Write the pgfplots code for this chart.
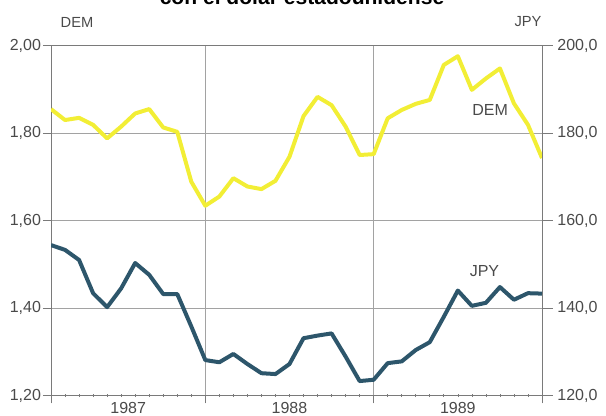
\documentclass[border=0pt]{standalone}
\usepackage{pgfplots}
\pgfplotsset{compat=1.18}
\usepackage{fontspec}
\setmainfont{Liberation Sans}
\definecolor{demc}{HTML}{F2EE35}
\definecolor{jpyc}{HTML}{2D566B}
\definecolor{axc}{HTML}{7A7A7A}
\definecolor{txc}{HTML}{4A4A4A}
\begin{document}
\begin{tikzpicture}
\pgfplotsset{
  common/.style={
    at={(38.25pt,15.375pt)}, anchor=south west,
    scale only axis, width=368.25pt, height=262.35pt,
    xmin=0, xmax=35,
    /pgf/number format/assume math mode=true,
    ticklabel style={font=\fontsize{12}{13}\selectfont, text=txc},
    tick style={axc, line width=0.5pt},
    axis line style={axc, line width=0.6pt},
  }
}
\begin{axis}[common,
  ymin=1.2, ymax=2.0,
  ytick={1.2,1.4,1.6,1.8,2.0},
  ytick pos=left, xtick pos=bottom,
  tick align=outside,
  major tick length=6pt,
  minor tick length=2.4pt,
  minor x tick style={yshift=1.2pt},
  yticklabel style={xshift=2pt, /pgf/number format/.cd, fixed, fixed zerofill, precision=2, use comma},
  xtick={0,11,23,35}, xticklabels={},
  minor xtick={1,2,3,4,5,6,7,8,9,10,12,13,14,15,16,17,18,19,20,21,22,24,25,26,27,28,29,30,31,32,33,34},
  extra x ticks={5.5,17,29},
  extra x tick labels={1987,1988,1989},
  extra x tick style={major tick length=0pt, grid=none, xticklabel style={yshift=-1.8pt}},
  xmajorgrids, ymajorgrids,
  major grid style={axc!70, line width=0.45pt},
]
\addplot[demc, line width=3pt, line join=round] coordinates {
(0,1.855) (1,1.830) (2,1.835) (3,1.819) (4,1.788) (5,1.815) (6,1.845) (7,1.855)
(8,1.813) (9,1.803) (10,1.689) (11,1.634) (12,1.655) (13,1.697) (14,1.678) (15,1.672)
(16,1.691) (17,1.746) (18,1.839) (19,1.883) (20,1.864) (21,1.815) (22,1.750) (23,1.752)
(24,1.834) (25,1.853) (26,1.867) (27,1.876) (28,1.956) (29,1.976) (30,1.899) (31,1.925)
(32,1.948) (33,1.868) (34,1.819) (35,1.743)
};
\node[text=txc, font=\fontsize{12}{13}\selectfont] at (axis cs:31.3,1.852) {DEM};
\end{axis}
\begin{axis}[common,
  ymin=120, ymax=200,
  axis x line=none, axis y line*=right,
  ytick={120,140,160,180,200},
  tick align=outside, major tick length=8pt,
  yticklabel style={/pgf/number format/.cd, fixed, fixed zerofill, precision=1, use comma},
]
\addplot[jpyc, line width=3pt, line join=round] coordinates {
(0,154.4) (1,153.3) (2,151.0) (3,143.4) (4,140.2) (5,144.5) (6,150.3) (7,147.6)
(8,143.2) (9,143.2) (10,135.8) (11,128.1) (12,127.6) (13,129.5) (14,127.2) (15,125.1)
(16,124.9) (17,127.2) (18,133.1) (19,133.7) (20,134.2) (21,128.9) (22,123.3) (23,123.6)
(24,127.4) (25,127.8) (26,130.4) (27,132.2) (28,138.0) (29,144.0) (30,140.5) (31,141.2)
(32,144.8) (33,141.9) (34,143.4) (35,143.3)
};
\node[text=txc, font=\fontsize{12}{13}\selectfont] at (axis cs:30.9,148.4) {JPY};
\end{axis}
\node[text=txc, font=\fontsize{11}{12}\selectfont] at (57.75pt,295.5pt) {DEM};
\node[text=txc, font=\fontsize{11}{12}\selectfont] at (396pt,295.5pt) {JPY};
\node[anchor=base, font=\bfseries\fontsize{15.8}{16}\selectfont] at (226.5pt,308.25pt) {con el dólar estadounidense};
\pgfresetboundingbox
\useasboundingbox (0,0) rectangle (454.5pt,312pt);
\end{tikzpicture}
\end{document}
